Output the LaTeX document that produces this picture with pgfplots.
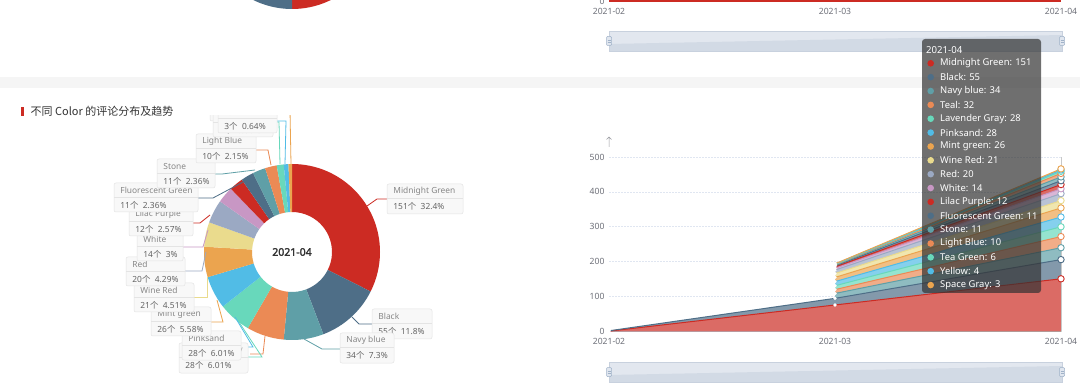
\documentclass[border=0pt]{standalone}
\usepackage{pgfplots}
\pgfplotsset{compat=1.18}
\usepackage{pgfplotstable}
\usepackage{fontspec}
\setmainfont{Noto Sans}
\newfontfamily\cjk{Noto Sans CJK SC}
\newfontfamily\boldnum{Noto Sans}[FakeBold=2.2]

\definecolor{c1}{RGB}{204,43,35}
\definecolor{c2}{RGB}{78,110,135}
\definecolor{c3}{RGB}{95,159,167}
\definecolor{c4}{RGB}{235,138,85}
\definecolor{c5}{RGB}{104,216,187}
\definecolor{c6}{RGB}{81,188,230}
\definecolor{c7}{RGB}{235,164,79}
\definecolor{c8}{RGB}{234,219,141}
\definecolor{c9}{RGB}{155,169,195}
\definecolor{c10}{RGB}{200,151,196}
\colorlet{sc1}{c1}\colorlet{sc2}{c2}\colorlet{sc3}{c3}\colorlet{sc4}{c4}\colorlet{sc5}{c5}
\colorlet{sc6}{c6}\colorlet{sc7}{c7}\colorlet{sc8}{c8}\colorlet{sc9}{c9}\colorlet{sc10}{c10}
\colorlet{sc11}{c1}\colorlet{sc12}{c2}\colorlet{sc13}{c3}\colorlet{sc14}{c4}\colorlet{sc15}{c5}
\colorlet{sc16}{c6}\colorlet{sc17}{c7}
\definecolor{gridc}{RGB}{224,230,241}
\definecolor{tickc}{RGB}{110,112,121}
\definecolor{axisc}{RGB}{190,193,200}
\definecolor{sepc}{RGB}{245,245,245}
\definecolor{titlec}{RGB}{51,51,51}
\definecolor{namec}{RGB}{135,135,135}
\definecolor{valc}{RGB}{100,100,100}
\definecolor{boxbg}{RGB}{248,248,248}
\definecolor{boxbd}{RGB}{228,228,228}
\definecolor{ttc}{RGB}{50,50,50}
\definecolor{slbg}{RGB}{226,231,239}
\definecolor{slsh}{RGB}{210,218,229}
\definecolor{slbd}{RGB}{200,209,222}
\definecolor{slh}{RGB}{224,230,239}
\definecolor{slhb}{RGB}{160,178,200}
\definecolor{pointc}{RGB}{200,200,200}

% trend data (2021-02, 2021-03, 2021-04)
\pgfplotstableread{
x v1 v2 v3 v4 v5 v6 v7 v8 v9 v10 v11 v12 v13 v14 v15 v16 v17
0 1 1 0 0 0 0 0 0 0 0 0 0 0 0 0 0 0
1 76 19 14 11 11 12 12 11 10 5 4 3 2 1 1 1 1
2 151 55 34 32 28 28 26 21 20 14 12 11 11 10 6 4 3
}\trend
\pgfplotstablecreatecol[expr={\thisrow{v1}}]{s1}{\trend}
\pgfplotstablecreatecol[expr={\thisrow{s1}+\thisrow{v2}}]{s2}{\trend}
\pgfplotstablecreatecol[expr={\thisrow{s2}+\thisrow{v3}}]{s3}{\trend}
\pgfplotstablecreatecol[expr={\thisrow{s3}+\thisrow{v4}}]{s4}{\trend}
\pgfplotstablecreatecol[expr={\thisrow{s4}+\thisrow{v5}}]{s5}{\trend}
\pgfplotstablecreatecol[expr={\thisrow{s5}+\thisrow{v6}}]{s6}{\trend}
\pgfplotstablecreatecol[expr={\thisrow{s6}+\thisrow{v7}}]{s7}{\trend}
\pgfplotstablecreatecol[expr={\thisrow{s7}+\thisrow{v8}}]{s8}{\trend}
\pgfplotstablecreatecol[expr={\thisrow{s8}+\thisrow{v9}}]{s9}{\trend}
\pgfplotstablecreatecol[expr={\thisrow{s9}+\thisrow{v10}}]{s10}{\trend}
\pgfplotstablecreatecol[expr={\thisrow{s10}+\thisrow{v11}}]{s11}{\trend}
\pgfplotstablecreatecol[expr={\thisrow{s11}+\thisrow{v12}}]{s12}{\trend}
\pgfplotstablecreatecol[expr={\thisrow{s12}+\thisrow{v13}}]{s13}{\trend}
\pgfplotstablecreatecol[expr={\thisrow{s13}+\thisrow{v14}}]{s14}{\trend}
\pgfplotstablecreatecol[expr={\thisrow{s14}+\thisrow{v15}}]{s15}{\trend}
\pgfplotstablecreatecol[expr={\thisrow{s15}+\thisrow{v16}}]{s16}{\trend}
\pgfplotstablecreatecol[expr={\thisrow{s16}+\thisrow{v17}}]{s17}{\trend}

% donut data (2021-04)
\pgfplotstableread{
v
151
55
34
32
28
28
26
21
20
14
12
11
11
10
6
4
3
}\pieA
\pgfplotstableread{
v
50
20
30
}\pieB

\newcommand\computepie[3]{%
  \def\pietotal{0}%
  \pgfplotsforeachungrouped \i in {0,...,#3}{%
    \pgfplotstablegetelem{\i}{v}\of#1%
    \pgfmathsetmacro\pietotal{\pietotal+\pgfplotsretval}}%
  \def\piecum{0}%
  \pgfplotsforeachungrouped \i in {0,...,#3}{%
    \pgfplotstablegetelem{\i}{v}\of#1%
    \pgfmathsetmacro\pa{90-(\piecum/\pietotal)*360}%
    \pgfmathsetmacro\piecum{\piecum+\pgfplotsretval}%
    \pgfmathsetmacro\pb{90-(\piecum/\pietotal)*360}%
    \pgfmathtruncatemacro\j{\i+1}%
    \expandafter\xdef\csname #2a\j\endcsname{\pa}%
    \expandafter\xdef\csname #2b\j\endcsname{\pb}}}
\computepie\pieA{A}{16}
\computepie\pieB{B}{2}

\newcommand\donutslice[5]{%
  \fill[#3, shift={(axis cs:0,0)}] (\csname #1a#2\endcsname:#4)
    arc[start angle=\csname #1a#2\endcsname, end angle=\csname #1b#2\endcsname, radius=#4]
    -- (\csname #1b#2\endcsname:#5)
    arc[start angle=\csname #1b#2\endcsname, end angle=\csname #1a#2\endcsname, radius=#5] -- cycle;}

\newcommand\lfont{\fontsize{8.4}{10}\selectfont}
\newcommand\vv[2]{#1{\cjk 个}\hspace{4.5pt}#2\%}
\newcommand\plab[6]{%
  \filldraw[fill=boxbg, draw=boxbd, line width=0.5pt, rounded corners=2pt] (#1,#2) rectangle (#3,#4);
  \draw[boxbd, line width=0.5pt] (#1,#2+14.5) -- (#3,#2+14.5);
  \node[anchor=west, inner sep=0, text=namec, font=\lfont] at (#1+6,#2+7.5) {#5};
  \node[anchor=west, inner sep=0, text=valc, font=\lfont] at (#1+6,#2+22) {#6};}

\newcommand\slider[1]{%
  \fill[slbg] (609,#1) rectangle (1062,#1+20);
  \fill[slsh] (609,#1+20) -- (609,#1+13) -- (1062,#1+4) -- (1062,#1+20) -- cycle;
  \draw[slbd, line width=0.6pt] (609,#1) rectangle (1062,#1+20);
  \filldraw[fill=slh, draw=slhb, line width=0.5pt, rounded corners=1pt] (606.5,#1+5.5) rectangle (611.5,#1+14.5);
  \filldraw[fill=slh, draw=slhb, line width=0.5pt, rounded corners=1pt] (1059.5,#1+5.5) rectangle (1064.5,#1+14.5);
  \draw[slhb, line width=0.4pt] (607.5,#1+9) -- (610.5,#1+9) (607.5,#1+11) -- (610.5,#1+11);
  \draw[slhb, line width=0.4pt] (1060.5,#1+9) -- (1063.5,#1+9) (1060.5,#1+11) -- (1063.5,#1+11);}

\pgfplotsset{
  trendstyle/.style={
    scale only axis, width=452pt, height=174.5pt,
    xmin=0, xmax=2, ymin=0, ymax=500,
    xtick={0,1,2}, xticklabels={2021-02,2021-03,2021-04},
    ytick={0,100,200,300,400,500},
    ymajorgrids, major grid style={gridc, dash pattern=on 1.5pt off 1.5pt, line width=0.6pt},
    axis x line*=bottom, axis y line*=left,
    y axis line style={draw=none}, x axis line style={axisc, line width=0.6pt},
    major tick length=0pt,
    ticklabel style={font=\fontsize{8.6}{10}\selectfont, text=tickc},
    xticklabel style={yshift=-3pt},
    yticklabel style={xshift=-1pt},
    /pgf/number format/assume math mode=true,
    clip=false},
  donutstyle/.style={hide axis, scale only axis, width=176pt, height=176pt,
    xmin=-1, xmax=1, ymin=-1, ymax=1, clip=false, anchor=center}
}

\begin{document}
\begin{tikzpicture}
\path[use as bounding box] (0pt,0pt) rectangle (1080pt,-390pt);
\clip (0pt,0pt) rectangle (1080pt,-390pt);
\fill[white] (0pt,0pt) rectangle (1080pt,-390pt);

\begin{scope}[x=1pt,y=-1pt]
  \fill[sepc] (0,77) rectangle (1080,88);
  \fill[c1] (21,107) rectangle (23.5,116);
  \node[anchor=west, inner sep=0, text=titlec, font={\cjk\fontsize{11}{13}\selectfont}] at (30.5,111.5) {不同 Color 的评论分布及趋势};
  \slider{31}
  \slider{362}
  \draw[tickc!70, line width=0.5pt] (609,147) -- (609,137) (606.5,139.5) -- (609,137) -- (611.5,139.5);
\end{scope}

% upper (partial) donut
\begin{axis}[donutstyle, at={(292pt,79pt)}]
  \pgfplotsinvokeforeach{1,2,3}{\donutslice{B}{#1}{sc#1}{88pt}{40pt}}
\end{axis}

% upper (partial) trend chart
\begin{axis}[trendstyle, at={(609pt,-1.5pt)}, anchor=south west]
  \addplot[c1, line width=2pt] coordinates {(0,0) (1,0) (2,0)};
\end{axis}

% lower donut
\begin{scope}
\clip (0pt,-116pt) rectangle (560pt,-390pt);
\begin{axis}[donutstyle, at={(292pt,-252pt)}]
  \pgfplotsinvokeforeach{1,...,17}{\donutslice{A}{#1}{sc#1}{88pt}{40pt}}
\end{axis}
\begin{scope}[x=1pt,y=-1pt, line width=0.8pt]
  \draw[c1] (367,206) -- (377,199) -- (387,199);
  \draw[c2] (352,317) -- (359,324) -- (372,324);
  \draw[c3] (304,339) -- (322,349) -- (340,349);
  \draw[c4] (265,336) -- (263,354) -- (250,354);
  \draw[c5] (237,319) -- (262,357) -- (248,357);
  \draw[c6] (235,317) -- (253,347) -- (241,347);
  \draw[c7] (217,300) -- (223,322) -- (211,322);
  \draw[c8] (207,277) -- (207,297) -- (194,297);
  \draw[c9] (206,252) -- (202,271) -- (185,271);
  \draw[c10] (208,230) -- (203,247) -- (183,247);
  \draw[c1] (210,215) -- (200,223) -- (193,223);
  \draw[c2] (243,182) -- (213,198) -- (198,198);
  \draw[c3] (255,170) -- (222,174) -- (215,174);
  \draw[c4] (271,165) -- (268,150) -- (256,150);
  \draw[c5] (280,164) -- (279,122) -- (270,122);
  \draw[c6] (285,164) -- (286,121) -- (273,121);
  \draw[c7] (291,164) -- (290,110);
  \plab{387}{184}{463}{214}{Midnight Green}{\vv{151}{32.4}}
  \plab{372}{309}{432}{339}{Black}{\vv{55}{11.8}}
  \plab{340}{333}{394}{363}{Navy blue}{\vv{34}{7.3}}
  \plab{179}{343}{248}{373}{Lavender Gray}{\vv{28}{6.01}}
  \plab{182}{331}{241}{360}{Pinksand}{\vv{28}{6.01}}
  \plab{151}{307}{211}{336}{Mint green}{\vv{26}{5.58}}
  \plab{134}{283}{194}{312}{Wine Red}{\vv{21}{4.51}}
  \plab{126}{257}{185}{286}{Red}{\vv{20}{4.29}}
  \plab{137}{232}{183}{261}{White}{\vv{14}{3}}
  \plab{129}{207}{193}{236}{Lilac Purple}{\vv{12}{2.57}}
  \plab{114}{183}{198}{212}{Fluorescent Green}{\vv{11}{2.36}}
  \plab{157}{159}{215}{188}{Stone}{\vv{11}{2.36}}
  \plab{196}{134}{256}{163}{Light Blue}{\vv{10}{2.15}}
  \plab{210}{92}{268}{121}{Tea Green}{\vv{6}{1.29}}
  \plab{213}{108}{273}{137}{Yellow}{\vv{4}{0.86}}
  \plab{218}{104}{277}{133}{Space Gray}{\vv{3}{0.64}}
  \node[font=\boldnum\fontsize{10.5}{12}\selectfont, text=titlec] at (292,252) {2021-04};
\end{scope}
\end{scope}

% lower stacked area trend chart
\begin{axis}[trendstyle, at={(609pt,-331.5pt)}, anchor=south west]
  \pgfplotsinvokeforeach{17,16,...,3}{\addplot[fill=sc#1!70!white, draw=none, skip coords between index={0}{1}] table[x=x,y=s#1]{\trend} \closedcycle;}
  \addplot[fill=sc2!70!white, draw=none] table[x=x,y=s2]{\trend} \closedcycle;
  \addplot[fill=sc1!70!white, draw=none] table[x=x,y=s1]{\trend} \closedcycle;
  \addplot[sc1, line width=1pt, mark=*, mark size=1.1pt, mark options={fill=white, draw=white}] table[x=x,y=s1]{\trend};
  \addplot[sc2, line width=1pt, mark=*, mark size=1.1pt, mark options={fill=white, draw=white}] table[x=x,y=s2]{\trend};
  \pgfplotsinvokeforeach{3,...,17}{\addplot[sc#1, line width=1pt, skip coords between index={0}{1}, mark=*, mark size=1.1pt, mark options={fill=white, draw=white}] table[x=x,y=s#1]{\trend};}
  \draw[pointc, line width=1pt] (axis cs:2,0) -- (axis cs:2,500);
  \pgfplotsinvokeforeach{1,...,17}{\addplot[only marks, mark=*, mark size=3.2pt, mark options={fill=white, draw=sc#1, line width=0.9pt}, skip coords between index={0}{2}] table[x=x,y=s#1]{\trend};}
\end{axis}

% tooltip
\begin{scope}[x=1pt,y=-1pt]
  \fill[ttc, fill opacity=0.7, rounded corners=3pt] (922,39) rectangle (1041,293);
  \node[anchor=west, inner sep=0, text=white, font=\fontsize{9.6}{11}\selectfont] at (926,50) {2021-04};
  \foreach \nm/\col [count=\k] in {Midnight Green: 151/c1, Black: 55/c2, Navy blue: 34/c3, Teal: 32/c4, Lavender Gray: 28/c5, Pinksand: 28/c6, Mint green: 26/c7, Wine Red: 21/c8, Red: 20/c9, White: 14/c10, Lilac Purple: 12/c1, Fluorescent Green: 11/c2, Stone: 11/c3, Light Blue: 10/c4, Tea Green: 6/c5, Yellow: 4/c6, Space Gray: 3/c7}{
    \fill[\col] (930.7,{63.3+13.86*(\k-1)}) circle[radius=3.3pt];
    \node[anchor=west, inner sep=0, text=white, font=\fontsize{9.4}{11}\selectfont] at (940,{63.3+13.86*(\k-1)}) {\nm};
  }
\end{scope}
\end{tikzpicture}
\end{document}
